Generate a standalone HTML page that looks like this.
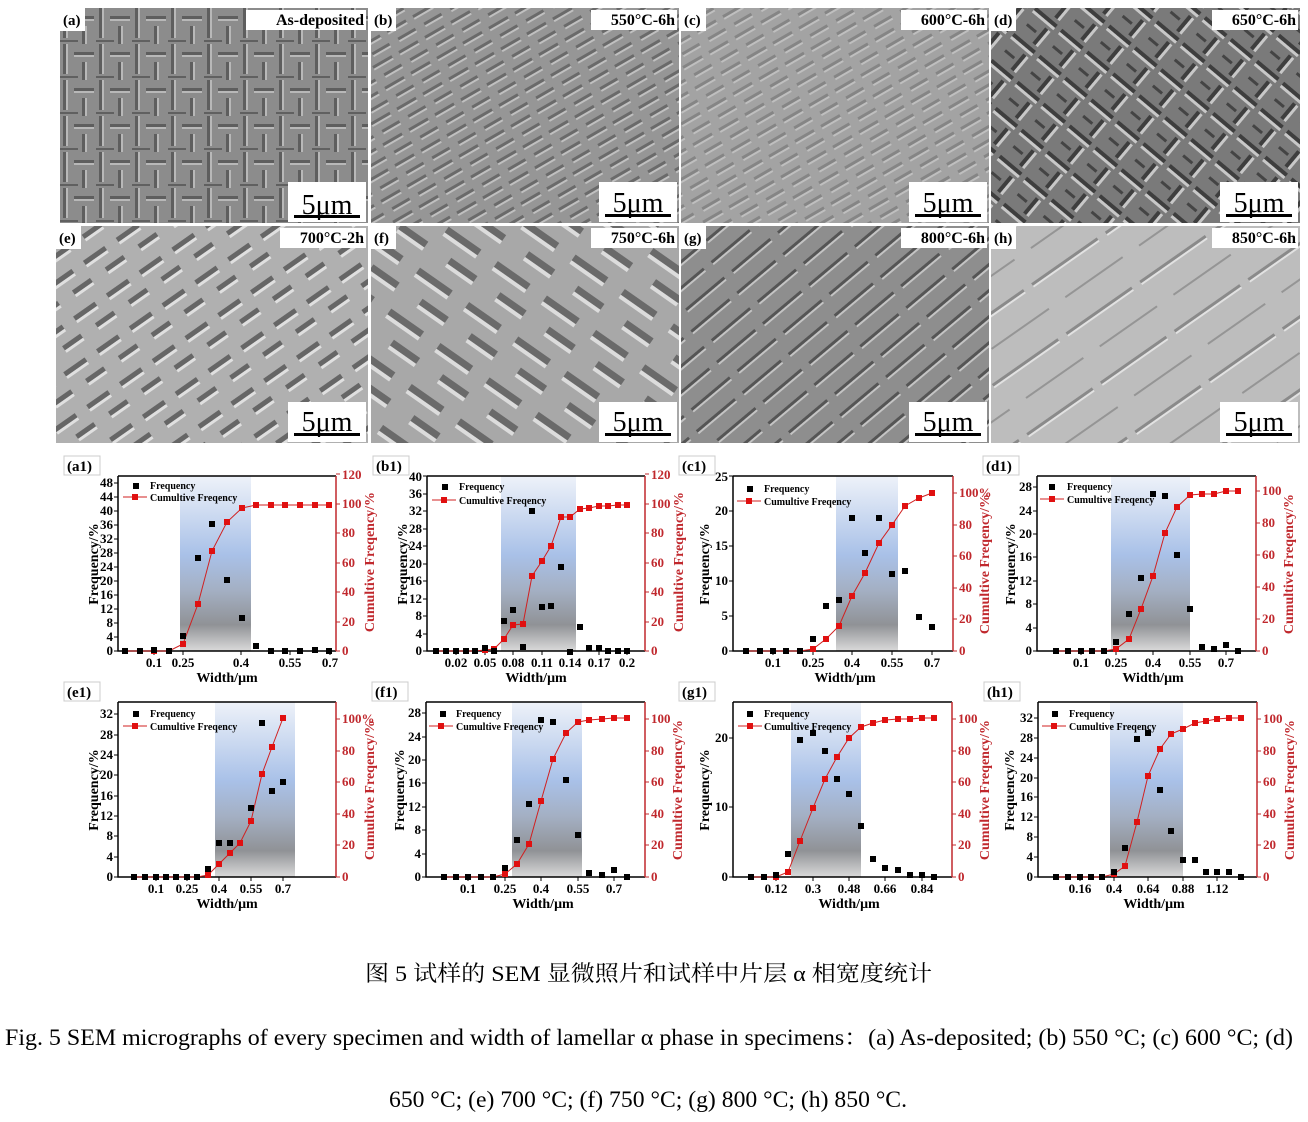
<!DOCTYPE html>
<html><head><meta charset="utf-8"><style>
html,body{margin:0;padding:0;background:#fff;}
svg{display:block}
.t{font-family:"Liberation Serif",serif;font-weight:bold}
.tk{font-family:"Liberation Serif",serif;font-weight:bold;font-size:13px}
.lg{font-family:"Liberation Serif",serif;font-weight:bold;font-size:10px}
</style></head><body>
<svg width="1308" height="1122" viewBox="0 0 1308 1122" xmlns="http://www.w3.org/2000/svg">
<defs>
<linearGradient id="bg" x1="0" y1="0" x2="0" y2="1">
<stop offset="0" stop-color="#eef2f9"/><stop offset="0.45" stop-color="#a9c1e8"/><stop offset="0.65" stop-color="#a4b0c4"/><stop offset="0.85" stop-color="#909296"/><stop offset="1" stop-color="#dadada"/>
</linearGradient>
<marker id="mb" markerWidth="6" markerHeight="6" refX="3" refY="3" markerUnits="userSpaceOnUse"><rect width="6" height="6" fill="#000"/></marker>
<marker id="mr" markerWidth="6" markerHeight="6" refX="3" refY="3" markerUnits="userSpaceOnUse"><rect width="6" height="6" fill="#e01010"/></marker>
<pattern id="p1" width="36" height="36" patternUnits="userSpaceOnUse">
<rect width="36" height="36" fill="#8c8c8c"/>
<rect x="3" y="0" width="3" height="30" fill="#5e5e5e"/><rect x="6" y="0" width="2" height="30" fill="#b8b8b8"/>
<rect x="14" y="8" width="20" height="3" fill="#5e5e5e"/><rect x="14" y="11" width="20" height="2" fill="#b8b8b8"/>
<rect x="22" y="18" width="3" height="18" fill="#5e5e5e"/><rect x="25" y="18" width="2" height="18" fill="#b8b8b8"/>
<rect x="0" y="32" width="18" height="2" fill="#606060"/>
</pattern>
<pattern id="p2" width="30" height="24" patternUnits="userSpaceOnUse" patternTransform="rotate(-30)">
<rect width="30" height="24" fill="#969696"/>
<rect x="2" y="3" width="22" height="3" fill="#6a6a6a"/><rect x="2" y="6" width="22" height="2" fill="#c0c0c0"/>
<rect x="8" y="15" width="20" height="3" fill="#6a6a6a"/><rect x="8" y="18" width="20" height="2" fill="#c0c0c0"/>
</pattern>
<pattern id="p3" width="34" height="34" patternUnits="userSpaceOnUse" patternTransform="rotate(40)">
<rect width="34" height="34" fill="#7a7a7a"/>
<rect x="0" y="4" width="28" height="4" fill="#3e3e3e"/><rect x="0" y="8" width="28" height="3" fill="#c8c8c8"/>
<rect x="20" y="14" width="4" height="20" fill="#3e3e3e"/><rect x="24" y="14" width="3" height="20" fill="#c8c8c8"/>
<rect x="4" y="22" width="12" height="3" fill="#444"/>
</pattern>
<pattern id="p4" width="40" height="40" patternUnits="userSpaceOnUse" patternTransform="rotate(-35)">
<rect width="40" height="40" fill="#b0b0b0"/>
<rect x="2" y="4" width="26" height="5" fill="#666"/><rect x="2" y="9" width="26" height="3" fill="#e0e0e0"/>
<rect x="16" y="22" width="22" height="5" fill="#666"/><rect x="16" y="27" width="22" height="3" fill="#e0e0e0"/>
</pattern>
<pattern id="p5" width="60" height="50" patternUnits="userSpaceOnUse" patternTransform="rotate(35)">
<rect width="60" height="50" fill="#a8a8a8"/>
<rect x="4" y="6" width="40" height="7" fill="#6a6a6a"/><rect x="4" y="13" width="40" height="4" fill="#dcdcdc"/>
<rect x="24" y="30" width="32" height="7" fill="#6a6a6a"/><rect x="24" y="37" width="32" height="4" fill="#dcdcdc"/>
</pattern>
<pattern id="p6" width="60" height="40" patternUnits="userSpaceOnUse" patternTransform="rotate(-40)">
<rect width="60" height="40" fill="#8e8e8e"/>
<rect x="0" y="6" width="50" height="3" fill="#555"/><rect x="0" y="9" width="50" height="2" fill="#c4c4c4"/>
<rect x="10" y="26" width="50" height="3" fill="#555"/><rect x="10" y="29" width="50" height="2" fill="#c4c4c4"/>
</pattern>
<pattern id="p7" width="90" height="60" patternUnits="userSpaceOnUse" patternTransform="rotate(-35)">
<rect width="90" height="60" fill="#bdbdbd"/>
<rect x="0" y="10" width="80" height="3" fill="#8a8a8a"/><rect x="0" y="13" width="80" height="2" fill="#e2e2e2"/>
<rect x="20" y="40" width="70" height="2" fill="#959595"/>
</pattern>
</defs>

<!-- SEM panels -->
<g transform="translate(60,8)"><rect width="308" height="215" fill="url(#p1)"/>
<rect width="25" height="23" fill="#fff"/><text class="t" x="3" y="17" font-size="15">(a)</text>
<rect x="186" y="2" width="120" height="20" fill="#fff"/><text class="t" x="304" y="17" font-size="16" text-anchor="end">As-deposited</text>
<rect x="228" y="174" width="78" height="40" fill="#fff"/><text x="267" y="206" font-family="Liberation Serif,serif" font-size="28" text-anchor="middle">5μm</text><rect x="234" y="207" width="66" height="3" fill="#000"/></g>

<g transform="translate(371,8)"><rect width="308" height="215" fill="url(#p2)"/>
<rect width="25" height="23" fill="#fff"/><text class="t" x="3" y="17" font-size="15">(b)</text>
<rect x="220" y="2" width="86" height="20" fill="#fff"/><text class="t" x="304" y="17" font-size="16" text-anchor="end">550°C-6h</text>
<rect x="228" y="174" width="78" height="40" fill="#fff"/><text x="267" y="204" font-family="Liberation Serif,serif" font-size="28" text-anchor="middle">5μm</text><rect x="234" y="206" width="66" height="3" fill="#000"/></g>

<g transform="translate(681,8)"><rect width="308" height="215" fill="url(#p2)" opacity="0.9"/><rect width="308" height="215" fill="#aaa" opacity="0.25"/>
<rect width="25" height="23" fill="#fff"/><text class="t" x="3" y="17" font-size="15">(c)</text>
<rect x="220" y="2" width="86" height="20" fill="#fff"/><text class="t" x="304" y="17" font-size="16" text-anchor="end">600°C-6h</text>
<rect x="228" y="174" width="78" height="40" fill="#fff"/><text x="267" y="204" font-family="Liberation Serif,serif" font-size="28" text-anchor="middle">5μm</text><rect x="234" y="206" width="66" height="3" fill="#000"/></g>

<g transform="translate(991,8)"><rect width="309" height="215" fill="url(#p3)"/>
<rect width="25" height="23" fill="#fff"/><text class="t" x="3" y="17" font-size="15">(d)</text>
<rect x="221" y="2" width="86" height="20" fill="#fff"/><text class="t" x="305" y="17" font-size="16" text-anchor="end">650°C-6h</text>
<rect x="229" y="174" width="78" height="40" fill="#fff"/><text x="268" y="204" font-family="Liberation Serif,serif" font-size="28" text-anchor="middle">5μm</text><rect x="235" y="206" width="66" height="3" fill="#000"/></g>

<g transform="translate(56,226)"><rect width="312" height="217" fill="url(#p4)"/>
<rect width="25" height="23" fill="#fff"/><text class="t" x="3" y="17" font-size="15">(e)</text>
<rect x="224" y="2" width="86" height="20" fill="#fff"/><text class="t" x="308" y="17" font-size="16" text-anchor="end">700°C-2h</text>
<rect x="232" y="176" width="78" height="40" fill="#fff"/><text x="271" y="205" font-family="Liberation Serif,serif" font-size="28" text-anchor="middle">5μm</text><rect x="238" y="207" width="66" height="3" fill="#000"/></g>

<g transform="translate(371,226)"><rect width="308" height="217" fill="url(#p5)"/>
<rect width="25" height="23" fill="#fff"/><text class="t" x="3" y="17" font-size="15">(f)</text>
<rect x="220" y="2" width="86" height="20" fill="#fff"/><text class="t" x="304" y="17" font-size="16" text-anchor="end">750°C-6h</text>
<rect x="228" y="176" width="78" height="40" fill="#fff"/><text x="267" y="205" font-family="Liberation Serif,serif" font-size="28" text-anchor="middle">5μm</text><rect x="234" y="207" width="66" height="3" fill="#000"/></g>

<g transform="translate(681,226)"><rect width="308" height="217" fill="url(#p6)"/>
<rect width="25" height="23" fill="#fff"/><text class="t" x="3" y="17" font-size="15">(g)</text>
<rect x="220" y="2" width="86" height="20" fill="#fff"/><text class="t" x="304" y="17" font-size="16" text-anchor="end">800°C-6h</text>
<rect x="228" y="176" width="78" height="40" fill="#fff"/><text x="267" y="205" font-family="Liberation Serif,serif" font-size="28" text-anchor="middle">5μm</text><rect x="234" y="207" width="66" height="3" fill="#000"/></g>

<g transform="translate(991,226)"><rect width="309" height="217" fill="url(#p7)"/>
<rect width="25" height="23" fill="#fff"/><text class="t" x="3" y="17" font-size="15">(h)</text>
<rect x="221" y="2" width="86" height="20" fill="#fff"/><text class="t" x="305" y="17" font-size="16" text-anchor="end">850°C-6h</text>
<rect x="229" y="176" width="78" height="40" fill="#fff"/><text x="268" y="205" font-family="Liberation Serif,serif" font-size="28" text-anchor="middle">5μm</text><rect x="235" y="207" width="66" height="3" fill="#000"/></g>

<!-- ===== Charts ===== -->
<!-- a1 -->
<g transform="translate(118,476)">
<rect x="62" y="0" width="71" height="175" fill="url(#bg)"/>
<path d="M0 0H218M0 0V175H218" stroke="#000" stroke-width="1.5" fill="none"/>
<path d="M218 0V175" stroke="#c0282d" stroke-width="1.5"/>
<path d="M-4 175H0M-4 161H0M-4 147H0M-4 133H0M-4 119H0M-4 105H0M-4 91H0M-4 77H0M-4 63H0M-4 49H0M-4 35H0M-4 21H0M-4 7H0M36 175v4M65 175v4M123 175v4M172 175v4M212 175v4" stroke="#000"/>
<path d="M218 175h4M218 146h4M218 116h4M218 87h4M218 57h4M218 28h4M218 -2h4" stroke="#c0282d"/>
<rect x="-54" y="-20" width="36" height="19" fill="none" stroke="#ccc"/><text class="t" x="-51" y="-5" font-size="15">(a1)</text>
<g class="tk" text-anchor="end"><text x="-5" y="179">0</text><text x="-5" y="165">4</text><text x="-5" y="151">8</text><text x="-5" y="137">12</text><text x="-5" y="123">16</text><text x="-5" y="109">20</text><text x="-5" y="95">24</text><text x="-5" y="81">28</text><text x="-5" y="67">32</text><text x="-5" y="53">36</text><text x="-5" y="39">40</text><text x="-5" y="25">44</text><text x="-5" y="11">48</text></g>
<g class="tk" fill="#c0282d"><text x="224" y="179">0</text><text x="224" y="150">20</text><text x="224" y="120">40</text><text x="224" y="91">60</text><text x="224" y="61">80</text><text x="224" y="32">100</text><text x="224" y="3">120</text></g>
<g class="tk" text-anchor="middle"><text x="36" y="191">0.1</text><text x="65" y="191">0.25</text><text x="123" y="191">0.4</text><text x="172" y="191">0.55</text><text x="212" y="191">0.7</text></g>
<text class="t" x="109" y="206" font-size="14" text-anchor="middle">Width/μm</text>
<text class="t" font-size="14" text-anchor="middle" transform="translate(-20,88) rotate(-90)">Frequency/%</text>
<text class="t" font-size="14" text-anchor="middle" fill="#c0282d" transform="translate(256,86) rotate(-90)">Cumultive Freqency/%</text>
<rect x="15" y="7" width="6" height="6"/><text class="lg" x="32" y="13">Frequency</text>
<path d="M5 21H29" stroke="#d02020"/><rect x="14" y="18" width="6" height="6" fill="#e01010"/><text class="lg" x="32" y="25">Cumultive Freqency</text>
<polyline points="7,175 22,175 36,175 51,175 65,168 80,128 94,75 109,46 124,32 138,29 153,29 167,29 182,29 197,29 211,29" fill="none" stroke="#d02020" marker-start="url(#mr)" marker-mid="url(#mr)" marker-end="url(#mr)"/>
<polyline points="7,175 22,175 36,174 51,175 65,160 80,82 94,48 109,104 124,142 138,170 153,175 167,175 182,175 197,174 211,175" fill="none" stroke="none" marker-start="url(#mb)" marker-mid="url(#mb)" marker-end="url(#mb)"/>
</g>

<!-- b1 -->
<g transform="translate(427,476)">
<rect x="74" y="0" width="75" height="175" fill="url(#bg)"/>
<path d="M0 0H218M0 0V175H218" stroke="#000" stroke-width="1.5" fill="none"/>
<path d="M218 0V175" stroke="#c0282d" stroke-width="1.5"/>
<path d="M-4 175H0M-4 158H0M-4 140H0M-4 123H0M-4 105H0M-4 88H0M-4 70H0M-4 53H0M-4 35H0M-4 18H0M-4 0H0M29 175v4M58 175v4M86 175v4M115 175v4M143 175v4M172 175v4M200 175v4" stroke="#000"/>
<path d="M218 175h4M218 146h4M218 116h4M218 87h4M218 57h4M218 28h4M218 -2h4" stroke="#c0282d"/>
<rect x="-54" y="-20" width="36" height="19" fill="none" stroke="#ccc"/><text class="t" x="-51" y="-5" font-size="15">(b1)</text>
<g class="tk" text-anchor="end"><text x="-5" y="179">0</text><text x="-5" y="162">4</text><text x="-5" y="144">8</text><text x="-5" y="127">12</text><text x="-5" y="109">16</text><text x="-5" y="92">20</text><text x="-5" y="74">24</text><text x="-5" y="57">28</text><text x="-5" y="39">32</text><text x="-5" y="22">36</text><text x="-5" y="5">40</text></g>
<g class="tk" fill="#c0282d"><text x="224" y="179">0</text><text x="224" y="150">20</text><text x="224" y="120">40</text><text x="224" y="91">60</text><text x="224" y="61">80</text><text x="224" y="32">100</text><text x="224" y="3">120</text></g>
<g class="tk" text-anchor="middle"><text x="29" y="191">0.02</text><text x="58" y="191">0.05</text><text x="86" y="191">0.08</text><text x="115" y="191">0.11</text><text x="143" y="191">0.14</text><text x="172" y="191">0.17</text><text x="200" y="191">0.2</text></g>
<text class="t" x="109" y="206" font-size="14" text-anchor="middle">Width/μm</text>
<text class="t" font-size="14" text-anchor="middle" transform="translate(-20,88) rotate(-90)">Frequency/%</text>
<text class="t" font-size="14" text-anchor="middle" fill="#c0282d" transform="translate(256,86) rotate(-90)">Cumultive Freqency/%</text>
<rect x="15" y="8" width="6" height="6"/><text class="lg" x="32" y="14">Frequency</text>
<path d="M5 24H29" stroke="#d02020"/><rect x="14" y="21" width="6" height="6" fill="#e01010"/><text class="lg" x="32" y="28">Cumultive Freqency</text>
<polyline points="9,175 19,175 29,175 39,175 48,175 58,174 67,173 77,163 86,149 96,148 105,100 115,85 124,70 134,41 143,41 153,33 162,32 172,30 181,30 191,29 200,29" fill="none" stroke="#d02020" marker-start="url(#mr)" marker-mid="url(#mr)" marker-end="url(#mr)"/>
<polyline points="9,175 19,175 29,175 39,175 48,175 58,172 67,175 77,145 86,134 96,171 105,35 115,131 124,130 134,91 143,176 153,151 162,172 172,172 181,175 191,175 200,175" fill="none" stroke="none" marker-start="url(#mb)" marker-mid="url(#mb)" marker-end="url(#mb)"/>
</g>

<!-- c1 -->
<g transform="translate(733,476)">
<rect x="103" y="0" width="62" height="175" fill="url(#bg)"/>
<path d="M0 0H220M0 0V175H220" stroke="#000" stroke-width="1.5" fill="none"/>
<path d="M220 0V175" stroke="#c0282d" stroke-width="1.5"/>
<path d="M-4 175H0M-4 140H0M-4 105H0M-4 70H0M-4 35H0M-4 0H0M40 175v4M80 175v4M119 175v4M159 175v4M199 175v4" stroke="#000"/>
<path d="M220 175h4M220 143h4M220 112h4M220 80h4M220 49h4M220 17h4" stroke="#c0282d"/>
<rect x="-54" y="-20" width="36" height="19" fill="none" stroke="#ccc"/><text class="t" x="-51" y="-5" font-size="15">(c1)</text>
<g class="tk" text-anchor="end"><text x="-5" y="179">0</text><text x="-5" y="144">5</text><text x="-5" y="109">10</text><text x="-5" y="74">15</text><text x="-5" y="39">20</text><text x="-5" y="5">25</text></g>
<g class="tk" fill="#c0282d"><text x="226" y="179">0</text><text x="226" y="147">20</text><text x="226" y="116">40</text><text x="226" y="84">60</text><text x="226" y="53">80</text><text x="226" y="21">100%</text></g>
<g class="tk" text-anchor="middle"><text x="40" y="191">0.1</text><text x="80" y="191">0.25</text><text x="119" y="191">0.4</text><text x="159" y="191">0.55</text><text x="199" y="191">0.7</text></g>
<text class="t" x="112" y="206" font-size="14" text-anchor="middle">Width/μm</text>
<text class="t" font-size="14" text-anchor="middle" transform="translate(-24,88) rotate(-90)">Frequency/%</text>
<text class="t" font-size="14" text-anchor="middle" fill="#c0282d" transform="translate(256,88) rotate(-90)">Cumultive Freqency/%</text>
<rect x="14" y="10" width="6" height="6"/><text class="lg" x="31" y="16">Frequency</text>
<path d="M4 25H28" stroke="#d02020"/><rect x="13" y="22" width="6" height="6" fill="#e01010"/><text class="lg" x="31" y="29">Cumultive Freqency</text>
<polyline points="13,175 27,175 40,175 53,175 67,175 80,173 93,163 106,150 119,120 132,97 146,67 159,49 172,30 186,22 199,17" fill="none" stroke="#d02020" marker-start="url(#mr)" marker-mid="url(#mr)" marker-end="url(#mr)"/>
<polyline points="13,175 27,175 40,175 53,175 67,175 80,163 93,130 106,124 119,42 132,77 146,42 159,98 172,95 186,141 199,151" fill="none" stroke="none" marker-start="url(#mb)" marker-mid="url(#mb)" marker-end="url(#mb)"/>
</g>

<!-- d1 -->
<g transform="translate(1037,476)">
<rect x="74" y="0" width="79" height="175" fill="url(#bg)"/>
<path d="M0 0H219M0 0V175H219" stroke="#000" stroke-width="1.5" fill="none"/>
<path d="M219 0V175" stroke="#c0282d" stroke-width="1.5"/>
<path d="M-4 175H0M-4 152H0M-4 128H0M-4 105H0M-4 81H0M-4 58H0M-4 35H0M-4 11H0M44 175v4M79 175v4M116 175v4M153 175v4M189 175v4" stroke="#000"/>
<path d="M219 175h4M219 143h4M219 111h4M219 79h4M219 47h4M219 15h4" stroke="#c0282d"/>
<rect x="-54" y="-20" width="36" height="19" fill="none" stroke="#ccc"/><text class="t" x="-51" y="-5" font-size="15">(d1)</text>
<g class="tk" text-anchor="end"><text x="-5" y="179">0</text><text x="-5" y="156">4</text><text x="-5" y="132">8</text><text x="-5" y="109">12</text><text x="-5" y="85">16</text><text x="-5" y="62">20</text><text x="-5" y="39">24</text><text x="-5" y="15">28</text></g>
<g class="tk" fill="#c0282d"><text x="225" y="179">0</text><text x="225" y="147">20</text><text x="225" y="115">40</text><text x="225" y="83">60</text><text x="225" y="51">80</text><text x="225" y="19">100</text></g>
<g class="tk" text-anchor="middle"><text x="44" y="191">0.1</text><text x="79" y="191">0.25</text><text x="116" y="191">0.4</text><text x="153" y="191">0.55</text><text x="189" y="191">0.7</text></g>
<text class="t" x="116" y="206" font-size="14" text-anchor="middle">Width/μm</text>
<text class="t" font-size="14" text-anchor="middle" transform="translate(-22,88) rotate(-90)">Frequency/%</text>
<text class="t" font-size="14" text-anchor="middle" fill="#c0282d" transform="translate(256,88) rotate(-90)">Cumultive Freqency/%</text>
<rect x="12" y="8" width="6" height="6"/><text class="lg" x="30" y="14">Frequency</text>
<path d="M3 23H27" stroke="#d02020"/><rect x="12" y="20" width="6" height="6" fill="#e01010"/><text class="lg" x="30" y="27">Cumultive Freqency</text>
<polyline points="19,175 31,175 44,175 55,175 67,175 79,173 92,163 104,133 116,100 128,57 140,31 153,19 165,18 177,18 189,15 201,15" fill="none" stroke="#d02020" marker-start="url(#mr)" marker-mid="url(#mr)" marker-end="url(#mr)"/>
<polyline points="19,175 31,175 44,175 55,175 67,175 79,166 92,138 104,102 116,18 128,20 140,79 153,133 165,171 177,173 189,169 201,175" fill="none" stroke="none" marker-start="url(#mb)" marker-mid="url(#mb)" marker-end="url(#mb)"/>
</g>

<!-- e1 -->
<g transform="translate(118,702)">
<rect x="97" y="0" width="80" height="175" fill="url(#bg)"/>
<path d="M0 0H218M0 0V175H218" stroke="#000" stroke-width="1.5" fill="none"/>
<path d="M218 0V175" stroke="#c0282d" stroke-width="1.5"/>
<path d="M-4 175H0M-4 155H0M-4 134H0M-4 114H0M-4 94H0M-4 73H0M-4 53H0M-4 33H0M-4 12H0M38 175v4M69 175v4M101 175v4M133 175v4M165 175v4" stroke="#000"/>
<path d="M218 175h4M218 143h4M218 112h4M218 80h4M218 49h4M218 17h4" stroke="#c0282d"/>
<rect x="-54" y="-20" width="36" height="19" fill="none" stroke="#ccc"/><text class="t" x="-51" y="-5" font-size="15">(e1)</text>
<g class="tk" text-anchor="end"><text x="-5" y="179">0</text><text x="-5" y="159">4</text><text x="-5" y="138">8</text><text x="-5" y="118">12</text><text x="-5" y="98">16</text><text x="-5" y="77">20</text><text x="-5" y="57">24</text><text x="-5" y="37">28</text><text x="-5" y="16">32</text></g>
<g class="tk" fill="#c0282d"><text x="224" y="179">0</text><text x="224" y="147">20</text><text x="224" y="116">40</text><text x="224" y="84">60</text><text x="224" y="53">80</text><text x="224" y="21">100%</text></g>
<g class="tk" text-anchor="middle"><text x="38" y="191">0.1</text><text x="69" y="191">0.25</text><text x="101" y="191">0.4</text><text x="133" y="191">0.55</text><text x="165" y="191">0.7</text></g>
<text class="t" x="109" y="206" font-size="14" text-anchor="middle">Width/μm</text>
<text class="t" font-size="14" text-anchor="middle" transform="translate(-20,88) rotate(-90)">Frequency/%</text>
<text class="t" font-size="14" text-anchor="middle" fill="#c0282d" transform="translate(256,88) rotate(-90)">Cumultive Freqency/%</text>
<rect x="15" y="9" width="6" height="6"/><text class="lg" x="32" y="15">Frequency</text>
<path d="M5 24H29" stroke="#d02020"/><rect x="14" y="21" width="6" height="6" fill="#e01010"/><text class="lg" x="32" y="28">Cumultive Freqency</text>
<polyline points="16,175 27,175 38,175 48,175 58,175 69,175 79,175 90,173 101,162 112,151 122,141 133,119 144,72 154,45 165,16" fill="none" stroke="#d02020" marker-start="url(#mr)" marker-mid="url(#mr)" marker-end="url(#mr)"/>
<polyline points="16,175 27,175 38,175 48,175 58,175 69,175 79,175 90,167 101,141 112,141 133,106 144,21 154,89 165,80" fill="none" stroke="none" marker-start="url(#mb)" marker-mid="url(#mb)" marker-end="url(#mb)"/>
</g>

<!-- f1 -->
<g transform="translate(426,702)">
<rect x="86" y="0" width="70" height="175" fill="url(#bg)"/>
<path d="M0 0H219M0 0V175H219" stroke="#000" stroke-width="1.5" fill="none"/>
<path d="M219 0V175" stroke="#c0282d" stroke-width="1.5"/>
<path d="M-4 175H0M-4 152H0M-4 128H0M-4 105H0M-4 81H0M-4 58H0M-4 35H0M-4 11H0M42 175v4M79 175v4M115 175v4M152 175v4M188 175v4" stroke="#000"/>
<path d="M219 175h4M219 143h4M219 112h4M219 80h4M219 49h4M219 17h4" stroke="#c0282d"/>
<rect x="-54" y="-20" width="36" height="19" fill="none" stroke="#ccc"/><text class="t" x="-51" y="-5" font-size="15">(f1)</text>
<g class="tk" text-anchor="end"><text x="-5" y="179">0</text><text x="-5" y="156">4</text><text x="-5" y="132">8</text><text x="-5" y="109">12</text><text x="-5" y="85">16</text><text x="-5" y="62">20</text><text x="-5" y="39">24</text><text x="-5" y="15">28</text></g>
<g class="tk" fill="#c0282d"><text x="225" y="179">0</text><text x="225" y="147">20</text><text x="225" y="116">40</text><text x="225" y="84">60</text><text x="225" y="53">80</text><text x="225" y="21">100</text></g>
<g class="tk" text-anchor="middle"><text x="42" y="191">0.1</text><text x="79" y="191">0.25</text><text x="115" y="191">0.4</text><text x="152" y="191">0.55</text><text x="188" y="191">0.7</text></g>
<text class="t" x="117" y="206" font-size="14" text-anchor="middle">Width/μm</text>
<text class="t" font-size="14" text-anchor="middle" transform="translate(-22,88) rotate(-90)">Frequency/%</text>
<text class="t" font-size="14" text-anchor="middle" fill="#c0282d" transform="translate(256,88) rotate(-90)">Cumultive Freqency/%</text>
<rect x="14" y="9" width="6" height="6"/><text class="lg" x="30" y="15">Frequency</text>
<path d="M3 24H27" stroke="#d02020"/><rect x="12" y="21" width="6" height="6" fill="#e01010"/><text class="lg" x="30" y="28">Cumultive Freqency</text>
<polyline points="18,175 30,175 42,175 55,175 67,175 79,172 91,162 103,142 115,99 127,57 140,31 152,20 163,18 176,17 188,16 201,16" fill="none" stroke="#d02020" marker-start="url(#mr)" marker-mid="url(#mr)" marker-end="url(#mr)"/>
<polyline points="18,175 30,175 42,175 55,175 67,175 79,166 91,138 103,102 115,18 127,20 140,78 152,133 163,171 176,173 188,168 201,175" fill="none" stroke="none" marker-start="url(#mb)" marker-mid="url(#mb)" marker-end="url(#mb)"/>
</g>

<!-- g1 -->
<g transform="translate(733,702)">
<rect x="58" y="0" width="70" height="175" fill="url(#bg)"/>
<path d="M0 0H219M0 0V175H219" stroke="#000" stroke-width="1.5" fill="none"/>
<path d="M219 0V175" stroke="#c0282d" stroke-width="1.5"/>
<path d="M-4 175H0M-4 105H0M-4 36H0M43 175v4M80 175v4M116 175v4M152 175v4M189 175v4" stroke="#000"/>
<path d="M219 175h4M219 143h4M219 112h4M219 80h4M219 49h4M219 17h4" stroke="#c0282d"/>
<rect x="-54" y="-20" width="36" height="19" fill="none" stroke="#ccc"/><text class="t" x="-51" y="-5" font-size="15">(g1)</text>
<g class="tk" text-anchor="end"><text x="-5" y="179">0</text><text x="-5" y="109">10</text><text x="-5" y="40">20</text></g>
<g class="tk" fill="#c0282d"><text x="225" y="179">0</text><text x="225" y="147">20</text><text x="225" y="116">40</text><text x="225" y="84">60</text><text x="225" y="53">80</text><text x="225" y="21">100</text></g>
<g class="tk" text-anchor="middle"><text x="43" y="191">0.12</text><text x="80" y="191">0.3</text><text x="116" y="191">0.48</text><text x="152" y="191">0.66</text><text x="189" y="191">0.84</text></g>
<text class="t" x="116" y="206" font-size="14" text-anchor="middle">Width/μm</text>
<text class="t" font-size="14" text-anchor="middle" transform="translate(-24,88) rotate(-90)">Frequency/%</text>
<text class="t" font-size="14" text-anchor="middle" fill="#c0282d" transform="translate(256,88) rotate(-90)">Cumultive Freqency/%</text>
<rect x="14" y="9" width="6" height="6"/><text class="lg" x="31" y="15">Frequency</text>
<path d="M5 24H29" stroke="#d02020"/><rect x="14" y="21" width="6" height="6" fill="#e01010"/><text class="lg" x="31" y="28">Cumultive Freqency</text>
<polyline points="18,175 31,175 43,175 55,170 67,139 80,106 92,77 104,55 116,36 128,25 140,21 152,18 165,17 177,17 189,16 201,16" fill="none" stroke="#d02020" marker-start="url(#mr)" marker-mid="url(#mr)" marker-end="url(#mr)"/>
<polyline points="18,175 31,175 43,173 55,152 67,38 80,31 92,49 104,77 116,92 128,124 140,157 152,166 165,168 177,173 189,173 201,175" fill="none" stroke="none" marker-start="url(#mb)" marker-mid="url(#mb)" marker-end="url(#mb)"/>
</g>

<!-- h1 -->
<g transform="translate(1038,702)">
<rect x="72" y="0" width="73" height="175" fill="url(#bg)"/>
<path d="M0 0H219M0 0V175H219" stroke="#000" stroke-width="1.5" fill="none"/>
<path d="M219 0V175" stroke="#c0282d" stroke-width="1.5"/>
<path d="M-4 175H0M-4 155H0M-4 135H0M-4 115H0M-4 95H0M-4 76H0M-4 56H0M-4 36H0M-4 16H0M42 175v4M76 175v4M110 175v4M145 175v4M179 175v4" stroke="#000"/>
<path d="M219 175h4M219 143h4M219 112h4M219 80h4M219 49h4M219 17h4" stroke="#c0282d"/>
<rect x="-54" y="-20" width="36" height="19" fill="none" stroke="#ccc"/><text class="t" x="-51" y="-5" font-size="15">(h1)</text>
<g class="tk" text-anchor="end"><text x="-5" y="179">0</text><text x="-5" y="159">4</text><text x="-5" y="139">8</text><text x="-5" y="119">12</text><text x="-5" y="99">16</text><text x="-5" y="80">20</text><text x="-5" y="60">24</text><text x="-5" y="40">28</text><text x="-5" y="20">32</text></g>
<g class="tk" fill="#c0282d"><text x="225" y="179">0</text><text x="225" y="147">20</text><text x="225" y="116">40</text><text x="225" y="84">60</text><text x="225" y="53">80</text><text x="225" y="21">100</text></g>
<g class="tk" text-anchor="middle"><text x="42" y="191">0.16</text><text x="76" y="191">0.4</text><text x="110" y="191">0.64</text><text x="145" y="191">0.88</text><text x="179" y="191">1.12</text></g>
<text class="t" x="116" y="206" font-size="14" text-anchor="middle">Width/μm</text>
<text class="t" font-size="14" text-anchor="middle" transform="translate(-24,88) rotate(-90)">Frequency/%</text>
<text class="t" font-size="14" text-anchor="middle" fill="#c0282d" transform="translate(256,88) rotate(-90)">Cumultive Freqency/%</text>
<rect x="14" y="9" width="6" height="6"/><text class="lg" x="31" y="15">Frequency</text>
<path d="M4 24H28" stroke="#d02020"/><rect x="13" y="21" width="6" height="6" fill="#e01010"/><text class="lg" x="31" y="28">Cumultive Freqency</text>
<polyline points="18,175 30,175 42,175 53,175 64,175 76,172 87,164 99,120 110,74 122,47 133,32 145,27 157,21 168,19 179,17 191,16 203,16" fill="none" stroke="#d02020" marker-start="url(#mr)" marker-mid="url(#mr)" marker-end="url(#mr)"/>
<polyline points="18,175 30,175 42,175 53,175 64,175 76,170 87,146 99,37 110,31 122,88 133,129 145,158 157,158 168,170 179,170 191,170 203,175" fill="none" stroke="none" marker-start="url(#mb)" marker-mid="url(#mb)" marker-end="url(#mb)"/>
</g>

<!-- Captions -->
<text x="365" y="981" font-family="Liberation Serif,'Noto Serif CJK SC','Noto Sans CJK SC',serif" font-size="22" textLength="567" lengthAdjust="spacingAndGlyphs">图 5  试样的 SEM 显微照片和试样中片层 α 相宽度统计</text>
<text x="5" y="1045" font-family="Liberation Serif,'Noto Serif CJK SC',serif" font-size="23" textLength="1288" lengthAdjust="spacingAndGlyphs">Fig. 5 SEM micrographs of every specimen and width of lamellar α phase in specimens：(a) As-deposited; (b) 550 °C; (c) 600 °C; (d)</text>
<text x="389" y="1107" font-family="Liberation Serif,serif" font-size="23" textLength="518" lengthAdjust="spacingAndGlyphs">650 °C; (e) 700 °C; (f) 750 °C; (g) 800 °C; (h) 850 °C.</text>
</svg>
</body></html>
